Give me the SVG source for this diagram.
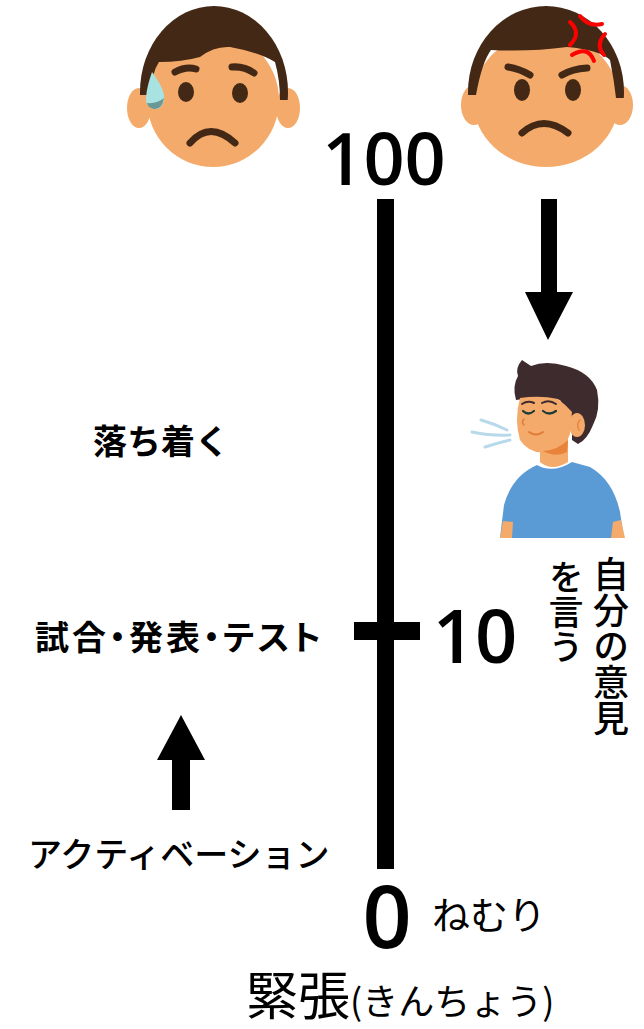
<svg xmlns="http://www.w3.org/2000/svg" width="644" height="1029" viewBox="0 0 644 1029">
  <style>
    .jp { font-family: "Noto Sans CJK JP", "Noto Sans", sans-serif; fill: #000; }
    .num { font-family: "Open Sans", "Noto Sans", sans-serif; fill: #000; text-anchor: middle; font-weight: 600; }
    .vert { writing-mode: vertical-rl; text-orientation: upright; }
    .skin { fill: #f4aa6a; }
    .hair { fill: #432915; }
    .feat { fill: none; stroke: #432915; stroke-linecap: round; }
  </style>
  <defs>
    <clipPath id="hairlineWorried">
      <path d="M130,95 L150,95 Q152,72 159,62 Q182,62 200,57 Q214,46 230,47 Q258,52 275,62 Q280,80 280,100 L300,100 L300,0 L130,0 Z"/>
    </clipPath>
    <clipPath id="hairlineAngry">
      <path d="M460,95 L476,95 Q482,62 491,50 Q530,52 567,47 Q600,50 610,60 Q614,80 616,98 L635,98 L635,0 L460,0 Z"/>
    </clipPath>
  </defs>
  <rect width="644" height="1029" fill="#fff"/>

  <!-- worried face -->
  <g id="face-worried">
    <ellipse class="skin" cx="139" cy="108" rx="12" ry="20"/>
    <ellipse class="skin" cx="288" cy="108" rx="12" ry="20"/>
    <ellipse class="skin" cx="213" cy="100" rx="66" ry="67"/>
    <ellipse class="hair" cx="214" cy="92" rx="74" ry="86" clip-path="url(#hairlineWorried)"/>
    <path class="feat" stroke-width="7" d="M175,72 Q186,66 196,69"/>
    <path class="feat" stroke-width="7" d="M232,67 Q244,66 254,73"/>
    <ellipse cx="186" cy="92" rx="8" ry="10" fill="#432915"/>
    <ellipse cx="240" cy="93" rx="8" ry="10" fill="#432915"/>
    <path class="feat" stroke-width="7" d="M190,143 Q210,120 235,143"/>
    <path d="M152,72 Q166,91 164,100 Q162,110 154,109 Q145,107 146,97 Q147,86 152,72 Z" fill="#a9e3e1"/>
    <path d="M164,98 Q162,110 154,109 Q148,108 147,103 Q157,104 164,98 Z" fill="#6a9896"/>
  </g>

  <!-- angry face -->
  <g id="face-angry">
    <ellipse class="skin" cx="474" cy="105" rx="13" ry="20"/>
    <ellipse class="skin" cx="620" cy="105" rx="13" ry="20"/>
    <ellipse class="skin" cx="546" cy="100" rx="73" ry="67"/>
    <ellipse class="hair" cx="546" cy="92" rx="78" ry="86" clip-path="url(#hairlineAngry)"/>
    <path fill="none" stroke="#ff0000" stroke-width="4" stroke-linecap="round" d="M570,22 Q582,33 570,45 M580,16 Q588,27 602,24 M605,34 Q595,45 604,55 M572,55 Q588,45 594,61"/>
    <path class="feat" stroke-width="7" d="M508,67 Q520,69 530,75"/>
    <path class="feat" stroke-width="7" d="M562,75 Q572,69 587,68"/>
    <ellipse cx="522" cy="90" rx="8" ry="11" fill="#432915"/>
    <ellipse cx="573" cy="90" rx="8" ry="11" fill="#432915"/>
    <path class="feat" stroke-width="7" d="M522,133 Q543,114 568,133"/>
  </g>

  <!-- relaxed man breathing out -->
  <g id="relaxed-man">
    <path d="M481,420 Q495,424 507,430 M472,432 Q492,436 510,435 M485,447 Q498,443 510,440" fill="none" stroke="#b7d9ea" stroke-width="3" stroke-linecap="round"/>
    <path class="skin" d="M540,438 L540,462 Q552,472 568,462 L568,438 Z"/>
    <path d="M500,538 L504,505 Q512,476 537,465 Q553,474 572,462 L590,467 Q613,480 620,512 L624,538 Z" fill="#5b9bd5"/>
    <path class="skin" d="M500,538 L503,521 L513,522 L512,538 Z"/>
    <path class="skin" d="M613,522 L621,520 L625,538 L611,538 Z"/>
    <path d="M516,400 Q512,386 518,376 Q515,368 522,360 L531,366 Q546,360 566,366 Q590,372 597,390 Q601,410 593,425 Q587,440 578,444 L572,440 L572,420 Q566,410 560,400 Q540,396 516,400 Z" fill="#3e2b2d"/>
    <path class="skin" d="M520,398 Q514,420 520,440 Q530,455 548,452 Q564,450 570,434 L572,412 Q566,405 558,399 Q540,395 520,398 Z"/>
    <path d="M543,451 Q558,450 568,440 L567,452 Q556,458 543,451 Z" fill="#e8833c"/>
    <ellipse class="skin" cx="577" cy="425" rx="8" ry="12"/>
    <path d="M580,420 Q576,424 579,430" fill="none" stroke="#e8833c" stroke-width="1.5" stroke-linecap="round"/>
    <path d="M522,404 Q528,400 534,403 M542,403 Q549,399 556,404" fill="none" stroke="#3e2b2d" stroke-width="2" stroke-linecap="round"/>
    <path d="M523,411 Q528,416 534,411 M543,411 Q549,416 556,411" fill="none" stroke="#1f3b36" stroke-width="2.2" stroke-linecap="round"/>
    <path d="M524,419 Q521,422 524,425" fill="none" stroke="#e07b39" stroke-width="1.5" stroke-linecap="round"/>
    <path d="M529,432 Q536,437 543,432" fill="none" stroke="#e07b39" stroke-width="2" stroke-linecap="round"/>
  </g>

  <!-- scale: vertical bar, tick at 10, arrows -->
  <g id="connectors">
    <rect x="377" y="199" width="17" height="670" fill="#000"/>
    <rect x="354" y="622" width="66" height="18" fill="#000"/>
    <polygon points="541,199 557,199 557,292 573,292 548,340 525,292 541,292" fill="#000"/>
    <polygon points="181,715 205,760 190,760 190,810 172,810 172,760 157,760" fill="#000"/>
  </g>

  <g id="label-100"><text class="num" x="384" y="185" font-size="72">100</text></g>
  <g id="label-10"><text class="num" x="475" y="663" font-size="74">10</text></g>
  <g id="label-0"><text class="num" x="387" y="948" font-size="86">0</text></g>

  <g id="label-calm"><text class="jp" x="93" y="454" font-size="34" font-weight="700">落ち着く</text></g>
  <g id="label-events"><text class="jp" x="35" y="650" font-size="34" font-weight="700" letter-spacing="3" style="font-feature-settings:'palt'">試合・発表・テスト</text></g>
  <g id="label-activation"><text class="jp" x="28" y="867" font-size="34" font-weight="500">アクティベーション</text></g>
  <g id="label-sleep"><text class="jp" x="432" y="929" font-size="38">ねむり</text></g>
  <g id="label-tension"><text class="jp" x="246" y="1015"><tspan font-size="52">緊張</tspan><tspan font-size="36">(きんちょう)</tspan></text></g>

  <g id="label-speak">
    <text class="jp vert" x="611" y="556" font-size="36" font-weight="500">自分の意見</text>
    <text class="jp vert" x="566" y="559" font-size="35" font-weight="500">を言う</text>
  </g>
</svg>
